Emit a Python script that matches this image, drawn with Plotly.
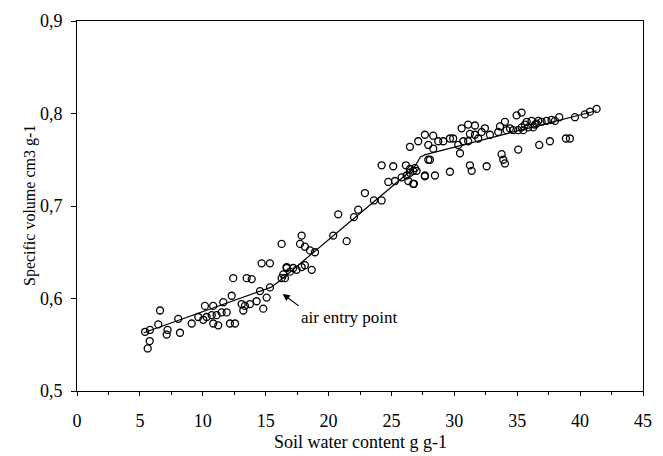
import plotly.graph_objects as go

# Observed data: soil water content (g g-1) and specific volume (cm3 g-1)
water = [5.62, 5.78, 5.41, 5.80, 6.46, 6.60, 7.13, 7.20, 8.05, 8.19, 9.12, 9.64, 10.04, 10.17, 10.31,
         10.83, 10.71, 10.83, 11.10, 11.23, 11.50, 11.63, 11.90, 12.16, 12.56, 12.30, 13.09, 13.35, 13.75,
         13.22, 14.28, 14.81, 15.08, 14.55, 15.34, 12.42, 13.49, 13.89, 14.68, 15.34, 16.27, 16.40, 16.67,
         16.27, 17.86, 17.73, 18.12, 18.52, 18.92, 16.67, 17.19, 16.53, 16.93, 17.46, 17.86, 18.12, 18.66,
         20.37, 21.44, 20.77, 22.02, 22.36, 22.89, 23.61, 24.22, 24.22, 25.14, 26.15, 24.75, 25.28, 25.81,
         26.21, 26.47, 26.73, 27.00, 26.34, 26.73, 27.66, 27.93,
         26.47, 27.13, 27.66, 28.32, 27.93, 28.32, 28.72, 29.12, 29.65, 29.91, 30.31, 30.71, 31.10, 30.58,
         31.10, 31.64, 31.24, 31.64, 31.90, 32.17, 32.43, 32.83, 33.49, 33.63, 34.02, 34.16, 34.42, 34.95,
         28.06, 30.45, 29.65, 31.24, 31.38, 32.57, 33.76, 33.89, 34.02, 35.08, 27.66, 28.46, 26.79, 26.47,
         26.87,
         35.35, 34.68, 35.08, 35.35, 35.61, 35.75, 36.14, 36.41, 36.67, 36.94, 37.34, 37.73, 38.00, 38.34,
         35.48, 35.88, 36.27, 36.54, 39.59, 40.38, 40.78, 41.31, 36.75, 37.60, 38.87, 39.19]
volume = [0.546, 0.554, 0.564, 0.566, 0.572, 0.587, 0.561, 0.566, 0.578, 0.563, 0.573, 0.580, 0.577, 0.592, 0.580,
          0.592, 0.582, 0.573, 0.582, 0.571, 0.585, 0.596, 0.585, 0.573, 0.573, 0.603, 0.594, 0.592, 0.594,
          0.587, 0.597, 0.589, 0.601, 0.608, 0.612, 0.622, 0.622, 0.621, 0.638, 0.638, 0.622, 0.626, 0.633,
          0.659, 0.668, 0.659, 0.656, 0.652, 0.650, 0.634, 0.633, 0.622, 0.629, 0.631, 0.634, 0.636, 0.631,
          0.668, 0.662, 0.691, 0.688, 0.696, 0.714, 0.706, 0.706, 0.744, 0.743, 0.744, 0.726, 0.727, 0.731,
          0.733, 0.736, 0.738, 0.738, 0.727, 0.724, 0.732, 0.750,
          0.764, 0.770, 0.777, 0.776, 0.766, 0.762, 0.770, 0.770, 0.773, 0.773, 0.766, 0.770, 0.770, 0.784,
          0.788, 0.787, 0.778, 0.777, 0.773, 0.780, 0.784, 0.777, 0.780, 0.786, 0.791, 0.782, 0.784, 0.798,
          0.750, 0.757, 0.737, 0.744, 0.738, 0.743, 0.756, 0.750, 0.746, 0.761, 0.733, 0.733, 0.724, 0.740,
          0.741,
          0.801, 0.782, 0.782, 0.785, 0.788, 0.791, 0.792, 0.788, 0.792, 0.791, 0.792, 0.793, 0.792, 0.796,
          0.782, 0.785, 0.785, 0.789, 0.796, 0.799, 0.802, 0.805, 0.766, 0.770, 0.773, 0.773]

# Fitted piecewise line
fit_x = [5.3, 15.4, 16.1, 26.7, 27.0, 27.3, 27.7, 41.3]
fit_y = [0.563, 0.612, 0.619, 0.740, 0.746, 0.753, 0.7555, 0.803]

x_ticks = [0, 5, 10, 15, 20, 25, 30, 35, 40, 45]
y_ticks = [0.5, 0.6, 0.7, 0.8, 0.9]
y_tick_labels = ["0,5", "0,6", "0,7", "0,8", "0,9"]

FONT = "Liberation Serif"

fig = go.Figure()
fig.add_trace(go.Scatter(
    x=fit_x, y=fit_y, mode="lines",
    line=dict(color="black", width=1.2), showlegend=False, hoverinfo="skip"))
fig.add_trace(go.Scatter(
    x=water, y=volume, mode="markers",
    marker=dict(symbol="circle-open", size=7, color="black", line=dict(width=1.3)),
    showlegend=False))

fig.update_layout(
    width=663, height=456,
    margin=dict(l=77, r=20, t=11, b=65),
    paper_bgcolor="white", plot_bgcolor="white",
    font=dict(family=FONT, color="black", size=18),
)
fig.update_xaxes(
    range=[0, 45], tickvals=x_ticks, ticktext=[str(v) for v in x_ticks],
    showline=True, linecolor="black", linewidth=1, mirror=True,
    showgrid=False, zeroline=False,
    ticks="outside", ticklen=4, tickcolor="black",
    minor=dict(dtick=2.5, ticks="outside", ticklen=3, tickcolor="black"),
    tickfont=dict(family=FONT, size=18), ticklabelstandoff=9,
)
fig.update_yaxes(
    range=[0.5, 0.9], tickvals=y_ticks, ticktext=y_tick_labels,
    showline=True, linecolor="black", linewidth=1, mirror=True,
    showgrid=False, zeroline=False,
    ticks="outside", ticklen=5, tickcolor="black",
    tickfont=dict(family=FONT, size=18), ticklabelstandoff=5,
)

fig.add_annotation(
    text="Specific volume cm3 g-1", xref="paper", yref="paper",
    x=-0.083, y=0.5, textangle=-90, showarrow=False,
    xanchor="center", yanchor="middle", font=dict(family=FONT, size=16))
fig.add_annotation(
    text="Soil water content g g-1", xref="paper", yref="paper",
    x=0.5, y=-0.137, showarrow=False,
    xanchor="center", yanchor="middle", font=dict(family=FONT, size=18))
fig.add_annotation(
    text="air entry point", x=16.35, y=0.605, xref="x", yref="y",
    showarrow=True, arrowhead=2, arrowsize=1.2, arrowwidth=1.2, arrowcolor="black",
    ax=16, ay=12, xanchor="left", yanchor="top",
    font=dict(family=FONT, size=17))

fig.write_html("out.html")
